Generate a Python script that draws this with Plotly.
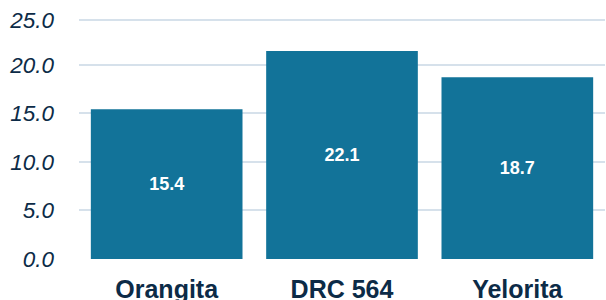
import plotly.graph_objects as go

categories = ["Orangita", "DRC 564", "Yelorita"]
values = [15.4, 21.4, 18.7]
bar_labels = ["15.4", "22.1", "18.7"]
tick_vals = [0, 5, 10, 15, 20, 24.55]
tick_text = ["0.0", "5.0", "10.0", "15.0", "20.0", "25.0"]

BAR = "#127399"
INK = "#0c2b47"
GRID = "#d6e1eb"

fig = go.Figure(go.Bar(
    x=categories, y=values, text=bar_labels,
    textposition="inside", insidetextanchor="middle",
    textfont=dict(family="Liberation Sans", size=18, color="white", weight="bold"),
    marker=dict(color=BAR, line=dict(width=0)),
    hoverinfo="skip",
))

fig.update_layout(
    width=606, height=300,
    margin=dict(l=79, r=1, t=19, b=41),
    plot_bgcolor="white", paper_bgcolor="white",
    bargap=0.135,
    showlegend=False,
    font=dict(family="Liberation Sans", color=INK),
)
fig.update_yaxes(
    range=[0, 24.7], tickvals=tick_vals, ticktext=tick_text,
    showgrid=True, gridcolor=GRID, gridwidth=1.5,
    zeroline=False, showline=False, automargin=False,
    tickfont=dict(family="Liberation Sans", size=22.5, color=INK, style="italic"),
    ticklabelstandoff=24,
)
fig.update_xaxes(
    showgrid=False, showline=False, zeroline=False, automargin=False,
    tickfont=dict(family="Liberation Sans", size=25, color=INK, weight="bold"),
    ticklabelstandoff=13,
)

fig.write_html(
    "out.html",
    config={"displayModeBar": False},
    post_script="document.body.style.margin='0';document.body.style.overflow='hidden';",
)
